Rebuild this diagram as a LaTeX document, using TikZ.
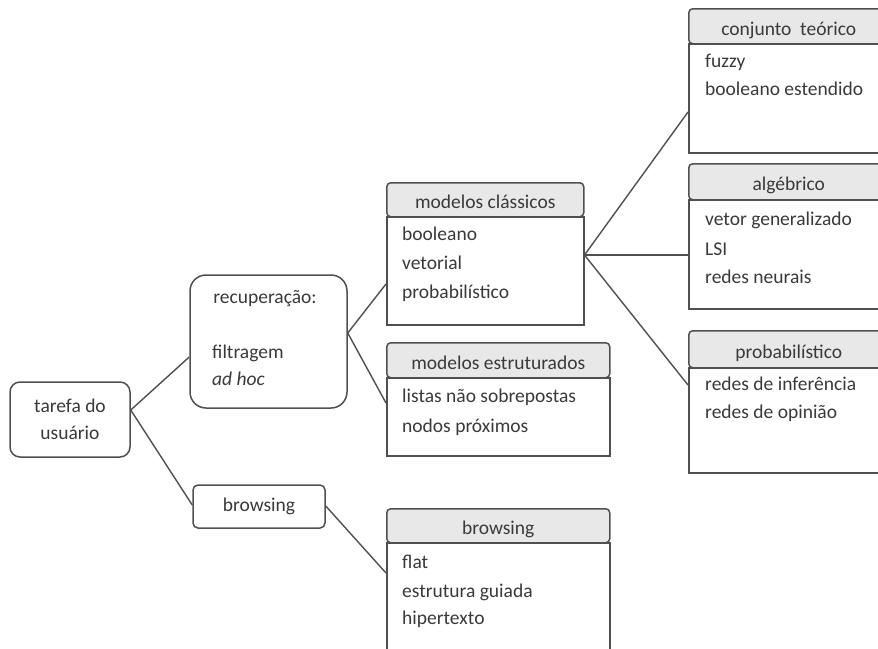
\documentclass[tikz,border=0pt]{standalone}
\usepackage{fontspec}
\setmainfont{Carlito}
\definecolor{edge}{HTML}{505050}
\definecolor{ink}{HTML}{3A3A3A}
\definecolor{headfill}{HTML}{E8E8E8}
\begin{document}
\begin{tikzpicture}[x=1pt,y=-1pt,
  every node/.style={font=\fontsize{19.5}{27}\selectfont, text=ink},
  plainbox/.style={draw=edge, line width=1.5pt, fill=white, inner sep=0pt},
  hdr/.style={draw=edge, line width=1.5pt, fill=headfill, rounded corners=4pt,
    anchor=north west, inner sep=0pt, text height=19pt, text depth=1pt},
  bodybox/.style={draw=edge, line width=1.5pt, fill=white, anchor=north west, inner sep=0pt},
  item/.style={anchor=mid west, inner sep=0pt, yshift=-3pt},
  link/.style={draw=edge, line width=1.4pt}]
\useasboundingbox (0,0) rectangle (878,648);
\fill[white] (0,0) rectangle (878,648);
\clip (0,0) rectangle (878,648);

% left part
\node[plainbox, rounded corners=10pt, minimum width=120pt, minimum height=75pt, align=center]
  (tarefa) at (70,419.5) {tarefa do\\usuário};
\node[plainbox, rounded corners=16pt, minimum width=157pt, minimum height=133pt]
  (recup) at (268.5,341.5) {};
\node[anchor=mid, inner sep=0pt, yshift=-3pt] (recupT) at (265,298) {recuperação:};
\node[item] (filtr) at (212,353) {filtragem};
\node[item] (adhoc) at (212,380) {\itshape ad hoc};
\node[plainbox, rounded corners=5pt, minimum width=132pt, minimum height=43pt]
  (browse) at (259,506.5) {browsing};

% middle column
\node[hdr, minimum width=197pt, minimum height=34pt] (classH) at (386,182) {modelos clássicos};
\node[bodybox, minimum width=197pt, minimum height=108pt] (classB) at (386,216) {};
\node[item] (c1) at (402,235) {booleano};
\node[item] (c2) at (402,264) {vetorial};
\node[item] (c3) at (402,293) {probabilístico};

\node[hdr, minimum width=223pt, minimum height=35pt] (estrH) at (386,342) {modelos estruturados};
\node[bodybox, minimum width=223pt, minimum height=78pt] (estrB) at (386,377) {};
\node[item] (e1) at (402,397) {listas não sobrepostas};
\node[item] (e2) at (402,427) {nodos próximos};

\node[hdr, minimum width=223pt, minimum height=34pt] (browsH) at (386,508) {browsing};
\node[bodybox, minimum width=223pt, minimum height=130pt] (browsB) at (386,542) {};
\node[item] (b1) at (402,563) {flat};
\node[item] (b2) at (402,592) {estrutura guiada};
\node[item] (b3) at (402,619) {hipertexto};

% right column
\node[hdr, minimum width=200pt, minimum height=35pt] (conjH) at (688,8) {conjunto\ \ teórico};
\node[bodybox, minimum width=200pt, minimum height=109pt] (conjB) at (688,43) {};
\node[item] (r1) at (705,62) {fuzzy};
\node[item] (r2) at (705,90) {booleano estendido};

\node[hdr, minimum width=200pt, minimum height=36pt] (algH) at (688,163) {algébrico};
\node[bodybox, minimum width=200pt, minimum height=109pt] (algB) at (688,199) {};
\node[item] (a1) at (705,220) {vetor generalizado};
\node[item] (a2) at (705,250) {LSI};
\node[item] (a3) at (705,278) {redes neurais};

\node[hdr, minimum width=200pt, minimum height=37pt] (probH) at (688,330) {probabilístico};
\node[bodybox, minimum width=200pt, minimum height=105pt] (probB) at (688,367) {};
\node[item] (p1) at (705,385) {redes de inferência};
\node[item] (p2) at (705,413) {redes de opinião};

% connectors
\draw[link] (tarefa.east |- 0,410) -- (recup.west |- 0,357);
\draw[link] (tarefa.east |- 0,410) -- (browse.west |- 0,505);
\draw[link] (recup.east |- 0,333) -- (classB.west |- 0,284);
\draw[link] (recup.east |- 0,333) -- (estrB.west |- 0,403);
\draw[link] (browse.east |- 0,506) -- (browsB.west |- 0,573);
\draw[link] (classB.east |- 0,255) -- (conjB.west |- 0,112);
\draw[link] (classB.east |- 0,255) -- (algB.west |- 0,255);
\draw[link] (classB.east |- 0,255) -- (probB.west |- 0,385);
\end{tikzpicture}
\end{document}
